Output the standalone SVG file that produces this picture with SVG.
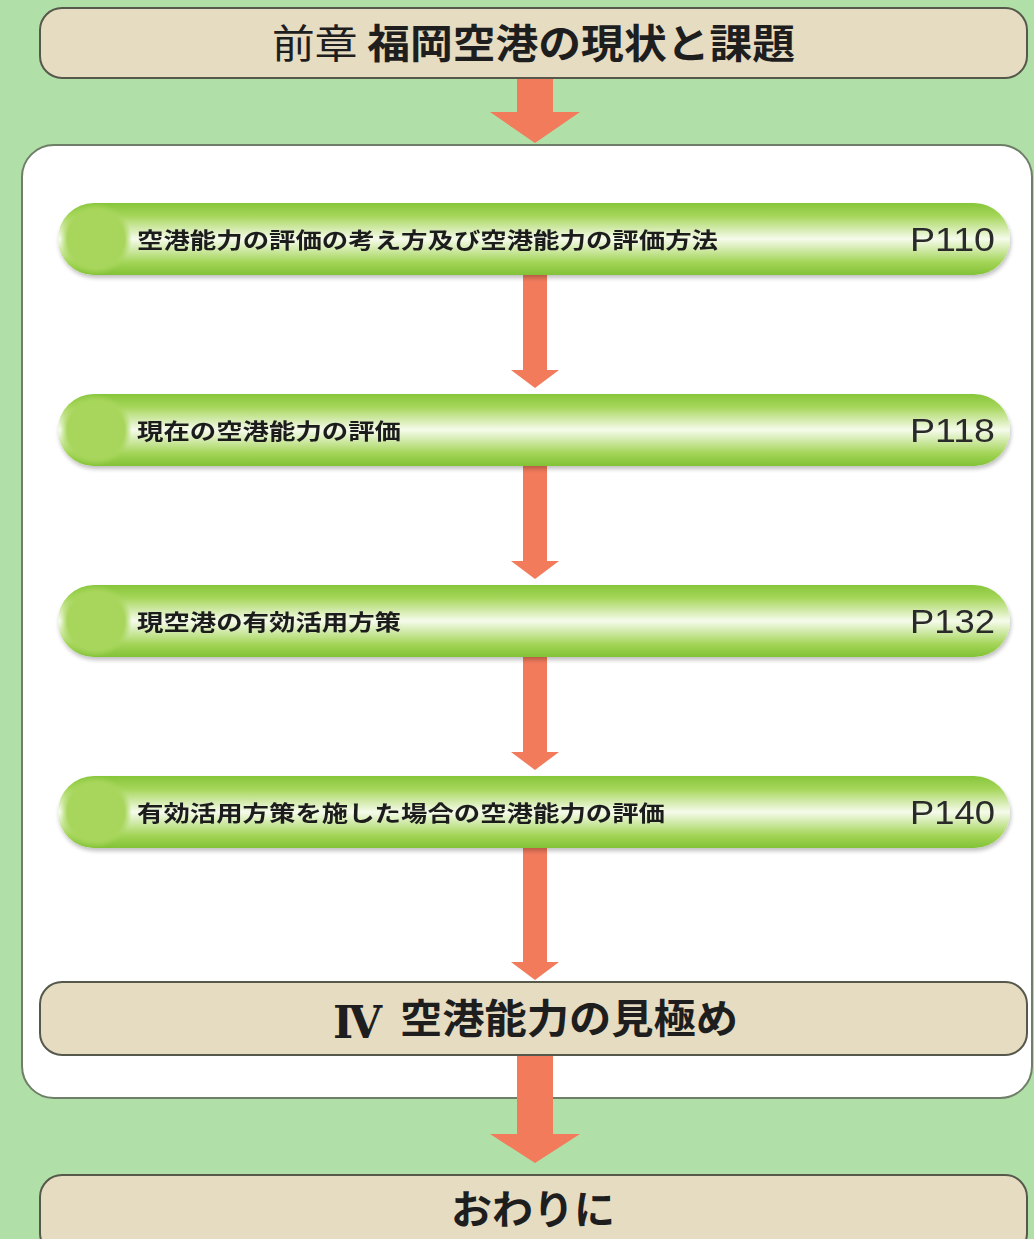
<svg xmlns="http://www.w3.org/2000/svg" width="1034" height="1239" viewBox="0 0 1034 1239">
<defs>
<linearGradient id="bar" x1="0" y1="0" x2="0" y2="1">
<stop offset="0" stop-color="#86c63a"/>
<stop offset="0.18" stop-color="#a6d65a"/>
<stop offset="0.5" stop-color="#f6fbec"/>
<stop offset="0.82" stop-color="#a4d558"/>
<stop offset="1" stop-color="#82c236"/>
</linearGradient>
<radialGradient id="dot" cx="0.5" cy="0.5" r="0.5">
<stop offset="0.8" stop-color="#a8d65c"/>
<stop offset="1" stop-color="#a8d65c" stop-opacity="0"/>
</radialGradient>
<filter id="sh" x="-5%" y="-20%" width="110%" height="150%">
<feGaussianBlur in="SourceAlpha" stdDeviation="2"/>
<feOffset dx="1" dy="3"/>
<feComponentTransfer><feFuncA type="linear" slope="0.25"/></feComponentTransfer>
<feMerge><feMergeNode/><feMergeNode in="SourceGraphic"/></feMerge>
</filter>
</defs>
<style>
.tan{fill:#e6dcc2;stroke:#55584a;stroke-width:2}
.big{font-family:"Noto Sans CJK JP","Noto Sans CJK SC",sans-serif;font-size:40px;font-weight:bold;fill:#1e1e1e}
.lbl{font-family:"Noto Sans CJK JP","Noto Sans CJK SC",sans-serif;font-size:22px;font-weight:bold;fill:#1e1e1e}
.pg{font-family:"Liberation Sans",Arial,sans-serif;font-size:33px;fill:#2a2a2a}
.arr{fill:#f27b5c}
.rn{font-family:"DejaVu Serif","Liberation Serif",serif;font-size:44px;font-weight:bold;fill:#1e1e1e}
</style>
<rect width="1034" height="1239" fill="#b0dfa8"/>
<g id="panel">
<rect x="22" y="145" width="1010" height="953" rx="32" fill="#ffffff" stroke="#6f7e68" stroke-width="2"/>
</g>
<g id="connectors">
<path class="arr" d="M517 78 H553 V112 H580 L535 143 L490 112 H517 Z"/>
<path class="arr" d="M523 275 H547 V370 H559 L535 388 L511 370 H523 Z"/>
<path class="arr" d="M523 466 H547 V561 H559 L535 579 L511 561 H523 Z"/>
<path class="arr" d="M523 657 H547 V752 H559 L535 770 L511 752 H523 Z"/>
<path class="arr" d="M523 848 H547 V962 H559 L535 980 L511 962 H523 Z"/>
<path class="arr" d="M517 1055 H553 V1134 H580 L535 1163 L490 1134 H517 Z"/>
</g>
<g id="n-top">
<rect class="tan" x="40" y="8" width="987" height="70" rx="22"/>
<text class="big" x="272" y="58" textLength="523" lengthAdjust="spacingAndGlyphs"><tspan font-weight="normal">前章</tspan> 福岡空港の現状と課題</text>
</g>
<g id="n1" filter="url(#sh)">
<rect x="58" y="203" width="952" height="72" rx="36" fill="url(#bar)"/>
<circle cx="96" cy="239" r="36" fill="url(#dot)"/>
<text class="lbl" x="137" y="248" textLength="581" lengthAdjust="spacingAndGlyphs">空港能力の評価の考え方及び空港能力の評価方法</text>
<text class="pg" x="910" y="251" textLength="85" lengthAdjust="spacingAndGlyphs">P110</text>
</g>
<g id="n2" filter="url(#sh)">
<rect x="58" y="394" width="952" height="72" rx="36" fill="url(#bar)"/>
<circle cx="96" cy="430" r="36" fill="url(#dot)"/>
<text class="lbl" x="137" y="439" textLength="264" lengthAdjust="spacingAndGlyphs">現在の空港能力の評価</text>
<text class="pg" x="910" y="442" textLength="85" lengthAdjust="spacingAndGlyphs">P118</text>
</g>
<g id="n3" filter="url(#sh)">
<rect x="58" y="585" width="952" height="72" rx="36" fill="url(#bar)"/>
<circle cx="96" cy="621" r="36" fill="url(#dot)"/>
<text class="lbl" x="137" y="630" textLength="264" lengthAdjust="spacingAndGlyphs">現空港の有効活用方策</text>
<text class="pg" x="910" y="633" textLength="85" lengthAdjust="spacingAndGlyphs">P132</text>
</g>
<g id="n4" filter="url(#sh)">
<rect x="58" y="776" width="952" height="72" rx="36" fill="url(#bar)"/>
<circle cx="96" cy="812" r="36" fill="url(#dot)"/>
<text class="lbl" x="137" y="821" textLength="528" lengthAdjust="spacingAndGlyphs">有効活用方策を施した場合の空港能力の評価</text>
<text class="pg" x="910" y="824" textLength="85" lengthAdjust="spacingAndGlyphs">P140</text>
</g>
<g id="n-iv">
<rect class="tan" x="40" y="982" width="987" height="73" rx="22"/>
<text class="rn" x="333" y="1038" textLength="49" lengthAdjust="spacingAndGlyphs">Ⅳ</text>
<text class="big" x="400" y="1033" textLength="338" lengthAdjust="spacingAndGlyphs">空港能力の見極め</text>
</g>
<g id="n-end">
<rect class="tan" x="40" y="1175" width="987" height="80" rx="22"/>
<text class="big" x="451" y="1224" textLength="164" lengthAdjust="spacingAndGlyphs">おわりに</text>
</g>
</svg>
